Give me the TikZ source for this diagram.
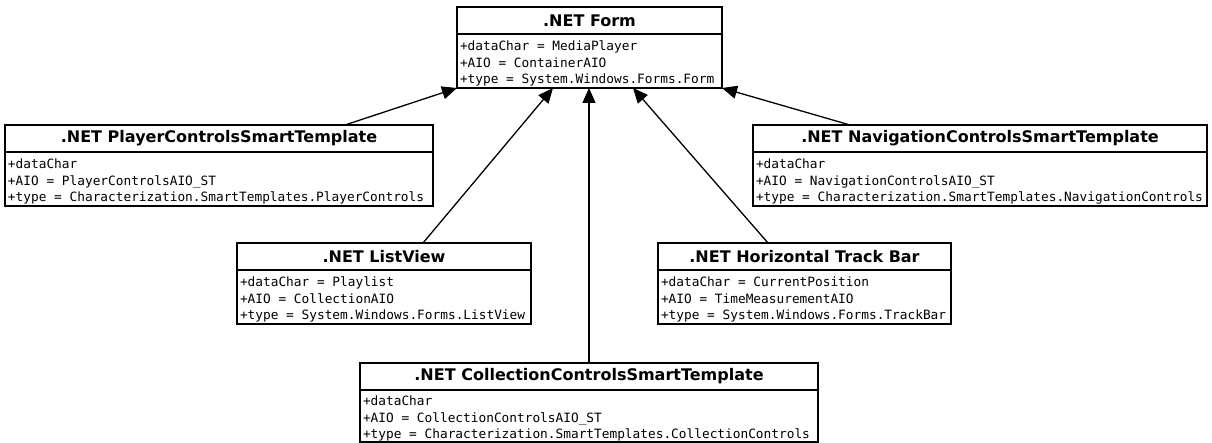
\documentclass[tikz,border=0pt]{standalone}
\usepackage{fontspec}
\usetikzlibrary{arrows.meta,calc}
\newfontfamily\ttlfont{DejaVu Sans}
\newfontfamily\attfont{DejaVu Sans Mono}
\newcommand\msp{\hspace*{0.602em}}
\begin{document}
\begin{tikzpicture}[x=1pt,y=-1pt,
  classtitle/.style={draw, line width=1.6pt, anchor=north west, outer sep=0pt,
    minimum height=27pt, inner sep=0pt, fill=white,
    font=\ttlfont\fontsize{16}{19}\selectfont\bfseries},
  classattr/.style={draw, line width=1.6pt, anchor=north west, outer sep=0pt,
    minimum height=54pt, inner xsep=3pt, inner ysep=0pt, align=left, fill=white,
    font=\attfont\fontsize{12.8}{16.3}\selectfont,
    execute at begin node={\rule{0pt}{15pt}}},
  inherit/.style={line width=1.3pt, -{Triangle[length=15pt,width=13pt]}}]
\fill[white] (0,0) rectangle (1212,443);
\useasboundingbox (0,0) rectangle (1212,443);

% .NET Form
\node[classtitle, minimum width=265pt] (form) at (457,7) {.NET Form};
\node[classattr, minimum width=265pt, text width=259pt] (formA) at (form.south west)
  {+dataChar\msp=\msp MediaPlayer\\+AIO\msp=\msp ContainerAIO\\+type\msp=\msp System.Windows.Forms.Form};

% PlayerControls
\node[classtitle, minimum width=428pt] (pl) at (5,125) {.NET PlayerControlsSmartTemplate};
\node[classattr, minimum width=428pt, text width=422pt] (plA) at (pl.south west)
  {+dataChar\\+AIO\msp=\msp PlayerControlsAIO\_ST\\+type\msp=\msp Characterization.SmartTemplates.PlayerControls};

% NavigationControls
\node[classtitle, minimum width=454pt] (nav) at (753,125) {.NET NavigationControlsSmartTemplate};
\node[classattr, minimum width=454pt, text width=448pt] (navA) at (nav.south west)
  {+dataChar\\+AIO\msp=\msp NavigationControlsAIO\_ST\\+type\msp=\msp Characterization.SmartTemplates.NavigationControls};

% ListView
\node[classtitle, minimum width=294pt] (lv) at (237,243) {.NET ListView};
\node[classattr, minimum width=294pt, text width=288pt] (lvA) at (lv.south west)
  {+dataChar\msp=\msp Playlist\\+AIO\msp=\msp CollectionAIO\\+type\msp=\msp System.Windows.Forms.ListView};

% Track bar
\node[classtitle, minimum width=293pt] (tb) at (658,243) {.NET Horizontal Track Bar};
\node[classattr, minimum width=293pt, text width=287pt] (tbA) at (tb.south west)
  {+dataChar\msp=\msp CurrentPosition\\+AIO\msp=\msp TimeMeasurementAIO\\+type\msp=\msp System.Windows.Forms.TrackBar};

% CollectionControls
\node[classtitle, minimum width=458pt] (col) at (360,363) {.NET CollectionControlsSmartTemplate};
\node[classattr, minimum width=458pt, text width=452pt, minimum height=52pt] (colA) at (col.south west)
  {+dataChar\\+AIO\msp=\msp CollectionControlsAIO\_ST\\+type\msp=\msp Characterization.SmartTemplates.CollectionControls};

% connectors
\draw[inherit] ([xshift=340pt]pl.north west) -- (formA.south west);
\draw[inherit] ([xshift=186pt]lv.north west) -- ([xshift=96pt]formA.south west);
\draw[inherit] (col.north) -- (col.north |- formA.south);
\draw[inherit] ([xshift=110pt]tb.north west) -- ([xshift=176pt]formA.south west);
\draw[inherit] ([xshift=97pt]nav.north west) -- (formA.south east);
\end{tikzpicture}
\end{document}
